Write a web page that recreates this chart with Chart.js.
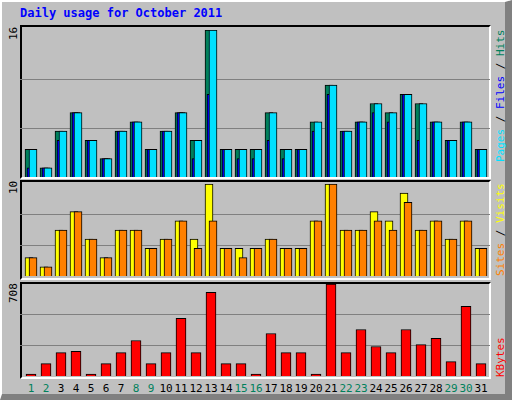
<!DOCTYPE html>
<html><head><meta charset="utf-8">
<script src="https://cdn.jsdelivr.net/npm/chart.js@4"></script>
<style>
body{margin:0;background:#fff;}
#wrap{position:absolute;left:0;top:0;width:512px;height:400px;background:#c0c0c0;overflow:hidden;font-family:"DejaVu Sans Mono",monospace;}
.frame{position:absolute;box-sizing:border-box;}
.panel{position:absolute;left:20px;width:471px;border-top:2px solid #000;border-left:2px solid #000;border-bottom:2px solid #fff;border-right:2px solid #fff;box-sizing:border-box;}
canvas{position:absolute;left:20px;}
.rot{position:absolute;transform-origin:0 0;transform:rotate(-90deg);white-space:nowrap;font-size:11px;}
.day{position:absolute;top:382px;width:20px;margin-left:-10px;text-align:center;font-size:11px;}
</style></head><body>
<div id="wrap">
 <div class="frame" style="left:0;top:0;width:512px;height:400px;border-left:2px solid #fff;border-top:2px solid #fff;border-right:7px solid #808080;border-bottom:6px solid #808080;"></div>
 <div style="position:absolute;left:20px;top:6px;color:#0000ff;font-weight:bold;font-size:12px;">Daily usage for October 2011</div>
 <div class="panel" style="top:25px;height:154px;"></div>
 <div class="panel" style="top:180px;height:100px;"></div>
 <div class="panel" style="top:282px;height:97px;"></div>
 <canvas id="c1" width="470" height="147" style="top:30px"></canvas>
 <canvas id="c2" width="470" height="92" style="top:184px"></canvas>
 <canvas id="c3" width="470" height="92" style="top:284px"></canvas>
 <div class="rot" style="left:7px;top:40px;">16</div>
 <div class="rot" style="left:7px;top:194px;">10</div>
 <div class="rot" style="left:7px;top:303px;">708</div>
 <div class="rot" style="left:494px;top:162px;"><span style="color:#00e0ff">Pages</span><span> / </span><span style="color:#0000ff">Files</span><span> / </span><span style="color:#00805c">Hits</span></div>
 <div class="rot" style="left:494px;top:276px;"><span style="color:#ff8000">Sites</span> / <span style="color:#ffff00">Visits</span></div>
 <div class="rot" style="left:494px;top:377px;color:#ff0000">KBytes</div>
 <div id="days"></div>
</div>
<script>
const days=[1,2,3,4,5,6,7,8,9,10,11,12,13,14,15,16,17,18,19,20,21,22,23,24,25,26,27,28,29,30,31];
const weekend=[1,2,8,9,15,16,22,23,29,30];
const hits =[3,1,5,7,4,2,5,6,3,5,7,4,16,3,3,3,7,3,3,6,10,5,6,8,7,9,8,6,4,6,3];
const files=[1,1,4,7,4,2,5,6,3,5,7,2,9,3,2,2,4,2,3,5,9,5,6,7,6,9,4,6,4,6,3];
const pages=[3,1,5,7,4,2,5,6,3,5,7,4,16,3,3,3,7,3,3,6,10,5,6,8,7,9,8,6,4,6,3];
const visits=[2,1,5,7,4,2,5,5,3,4,6,4,10,3,3,3,4,3,3,6,10,5,5,7,6,9,5,6,4,6,3];
const sites =[2,1,5,7,4,2,5,5,3,4,6,3,6,3,2,3,4,3,3,6,10,5,5,6,5,8,5,6,4,6,3];
const kbytes=[0,95,180,190,0,95,180,273,95,180,443,180,644,95,95,0,327,180,180,0,708,180,358,227,180,358,242,289,111,536,95];
const maxes=[16,10,708];

const dd=document.getElementById('days');
days.forEach((d,i)=>{const e=document.createElement('div');e.className='day';e.style.left=(31+15*i)+'px';e.style.color=weekend.includes(d)?'#00805c':'#000';e.textContent=d;dd.appendChild(e);});

function ds(vals,off,color,w,order){
  return {data:vals.map((v,i)=>({x:i+off,y:v})),backgroundColor:color,borderColor:'#000',borderWidth:1,barThickness:w,grouped:false,order:order,borderSkipped:'bottom',minBarLength:2};
}
function make(id,datasets,max){
  new Chart(document.getElementById(id),{type:'bar',data:{datasets},
    options:{responsive:false,animation:false,devicePixelRatio:1,layout:{padding:0},
      plugins:{legend:{display:false},tooltip:{enabled:false}},
      scales:{x:{type:'linear',offset:false,min:0,max:470/15,display:false},
        y:{min:0,max:max,afterBuildTicks:s=>{s.ticks=[0,max/3,2*max/3,max].map(v=>({value:v}));},
           ticks:{display:false},border:{display:false},grid:{color:'#808080',drawTicks:false,lineWidth:c=>(c.tick.value>0&&c.tick.value<max)?1:0}}}}});
}
make('c1',[ds(hits,0.6,'#00805c',8,3),ds(files,0.733,'#0000ff',8,2),ds(pages,0.867,'#00e0ff',8,1)],maxes[0]);
make('c2',[ds(visits,0.6,'#ffff00',8,2),ds(sites,0.867,'#ff8000',8,1)],maxes[1]);
make('c3',[ds(kbytes,0.733,'#ff0000',10,1)],maxes[2]);
</script>
</body></html>
